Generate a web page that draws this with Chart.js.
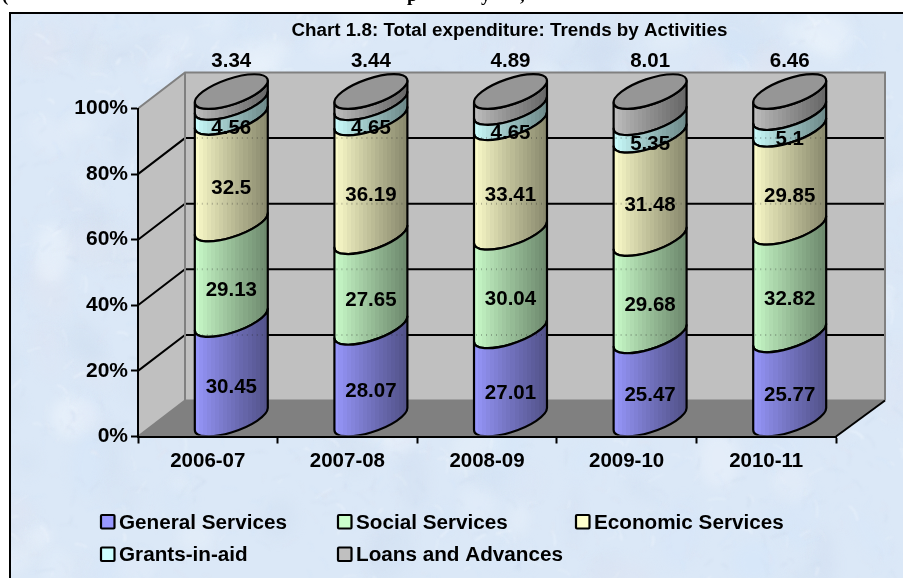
<!DOCTYPE html>
<html>
<head>
<meta charset="utf-8">
<title>Chart 1.8: Total expenditure: Trends by Activities</title>
<script src="https://cdn.jsdelivr.net/npm/chart.js@4"></script>
<style>
  html, body { margin: 0; padding: 0; background: #fff; }
  canvas { display: block; }
</style>
</head>
<body>
<canvas id="chart" width="903" height="578"></canvas>
<script>
// Expenditure shares by year, in percent
const categories = ['2006-07', '2007-08', '2008-09', '2009-10', '2010-11'];
const generalServices = [30.45, 28.07, 27.01, 25.47, 25.77];
const socialServices = [29.13, 27.65, 30.04, 29.68, 32.82];
const economicServices = [32.5, 36.19, 33.41, 31.48, 29.85];
const grantsInAid = [4.56, 4.65, 4.65, 5.35, 5.1];
const loansAndAdvances = [3.34, 3.44, 4.89, 8.01, 6.46];
const yTicks = [0, 20, 40, 60, 80, 100];
const chartTitle = 'Chart 1.8: Total expenditure: Trends by Activities';

const FONT = '"Liberation Sans", Arial, sans-serif';
const DEPTH_X = 47, DEPTH_Y = 36;           // shear of the 3D box
const RX = 38.3, RY = 12.8, ROT = -18.8 * Math.PI / 180;   // cylinder cross-section
const LIFT = 17;                            // ellipse centre above the front plane
const SHIFT = DEPTH_X / 2;
const T0 = Math.atan2(-RY * Math.sin(ROT), RX * Math.cos(ROT));
const HALF_W = Math.sqrt(Math.pow(RX * Math.cos(ROT), 2) + Math.pow(RY * Math.sin(ROT), 2));

function shade(hex, f) {
  const n = parseInt(hex.slice(1), 16);
  const c = s => Math.round(((n >> s) & 255) * f);
  return `rgb(${c(16)},${c(8)},${c(0)})`;
}

// Faceted shading: hard vertical bands from lit left to dark right
function bandFill(ctx, cx, color) {
  const g = ctx.createLinearGradient(cx - HALF_W, 0, cx + HALF_W, 0);
  const bands = 18;
  for (let i = 0; i < bands; i++) {
    const f = 0.98 - 0.44 * Math.pow(i / (bands - 1), 0.9);
    const col = shade(color, f);
    g.addColorStop(i / bands, col);
    g.addColorStop((i + 1) / bands, col);
  }
  return g;
}

// Bars are drawn as upright cylinder segments
Chart.BarElement.prototype.draw = function (ctx) {
  const cx = this.x + SHIFT;
  const yTop = this.y - LIFT, yBase = this.base - LIFT;
  const floor = Chart.getChart('chart').chartArea.bottom;
  ctx.save();
  ctx.beginPath();
  ctx.rect(0, 0, 903, floor - 1);
  ctx.clip();
  ctx.beginPath();
  ctx.ellipse(cx, yBase, RX, RY, ROT, T0, T0 + Math.PI, false);
  ctx.ellipse(cx, yTop, RX, RY, ROT, T0 + Math.PI, T0, true);
  ctx.closePath();
  ctx.fillStyle = bandFill(ctx, cx, this.options.backgroundColor);
  ctx.fill();
  ctx.lineWidth = 2.2;
  ctx.strokeStyle = '#000';
  ctx.lineJoin = 'round';
  ctx.stroke();
  ctx.restore();
};

// Seeded sequence for the paper texture of the chart background
function lcg(seed) {
  let s = seed;
  return () => (s = (s * 16807) % 2147483647) / 2147483647;
}

const backdrop = {
  id: 'backdrop',
  beforeDraw(chart) {
    const { ctx, scales: { y }, chartArea: a } = chart;
    ctx.save();
    ctx.fillStyle = '#fff';
    ctx.fillRect(0, 0, 903, 578);
    ctx.fillStyle = '#dbe8f7';
    ctx.fillRect(10, 13, 893, 565);

    // marbled paper
    ctx.save();
    ctx.beginPath();
    ctx.rect(11, 14, 892, 564);
    ctx.clip();
    const r = lcg(48271);
    const tints = ['rgba(240,246,253,', 'rgba(208,222,240,', 'rgba(222,228,242,', 'rgba(212,230,250,'];
    ctx.filter = 'blur(6px)';
    for (let i = 0; i < 240; i++) {
      ctx.fillStyle = tints[Math.floor(r() * 4)] + (0.2 + r() * 0.3) + ')';
      ctx.beginPath();
      ctx.ellipse(r() * 903, r() * 578, 10 + r() * 26, 6 + r() * 16, r() * 3, 0, 7);
      ctx.fill();
    }
    ctx.filter = 'blur(1px)';
    for (let i = 0; i < 1800; i++) {
      ctx.strokeStyle = tints[Math.floor(r() * 4)] + (0.2 + r() * 0.4) + ')';
      ctx.lineWidth = 0.8 + r() * 1.6;
      const px = r() * 903, py = r() * 578, ang = r() * 6.28, len = 5 + r() * 14;
      ctx.beginPath();
      ctx.moveTo(px, py);
      ctx.quadraticCurveTo(px + Math.cos(ang) * len * 0.5 + 3, py + Math.sin(ang) * len * 0.5 - 3,
                           px + Math.cos(ang) * len, py + Math.sin(ang) * len);
      ctx.stroke();
    }
    ctx.filter = 'none';
    ctx.restore();

    // chart frame: only the top and left edges fall inside the page
    ctx.fillStyle = '#000';
    ctx.fillRect(9, 12, 894, 2);
    ctx.fillRect(9, 12, 2, 566);

    // tails of the caption line above the frame
    ctx.font = 'bold 19px "Liberation Serif", serif';
    ctx.fillStyle = '#000';
    ctx.textAlign = 'left';
    ctx.textBaseline = 'alphabetic';
    ctx.fillText('(', 2, 1);
    ctx.fillText('p', 407, 1);
    ctx.fillText('y', 481, 1);
    ctx.fillText(',', 520, 1);

    const L = a.left, R = a.right, T = a.top, B = a.bottom;
    const bl = L + DEPTH_X, br = R + DEPTH_X + 2, bt = T - DEPTH_Y, bb = B - DEPTH_Y;

    // walls and floor
    ctx.fillStyle = '#C0C0C0';
    ctx.fillRect(bl, bt, br - bl, bb - bt);
    ctx.beginPath();
    ctx.moveTo(L, T); ctx.lineTo(bl, bt); ctx.lineTo(bl, bb); ctx.lineTo(L, B);
    ctx.closePath();
    ctx.fill();
    ctx.fillStyle = '#808080';
    ctx.beginPath();
    ctx.moveTo(L, B); ctx.lineTo(bl, bb); ctx.lineTo(br, bb); ctx.lineTo(R, B);
    ctx.closePath();
    ctx.fill();

    // gridlines wrap from the side wall onto the back wall
    ctx.strokeStyle = '#000';
    ctx.lineWidth = 2;
    yTicks.slice(1, -1).forEach(v => {
      const p = y.getPixelForValue(v);
      ctx.beginPath();
      ctx.moveTo(L, p); ctx.lineTo(bl, p - DEPTH_Y); ctx.lineTo(br, p - DEPTH_Y);
      ctx.stroke();
    });

    // wall outlines
    ctx.strokeStyle = '#808080';
    ctx.beginPath();
    ctx.moveTo(L, T); ctx.lineTo(bl, bt); ctx.lineTo(br, bt); ctx.lineTo(br, bb);
    ctx.moveTo(bl, bt); ctx.lineTo(bl, bb); ctx.lineTo(br, bb);
    ctx.stroke();
    ctx.beginPath();
    ctx.moveTo(L, B); ctx.lineTo(bl, bb);
    ctx.stroke();

    // front-right floor edge
    ctx.strokeStyle = '#000';
    ctx.beginPath();
    ctx.moveTo(R, B); ctx.lineTo(br, bb);
    ctx.stroke();
    ctx.restore();
  },
  afterDatasetsDraw(chart) {
    const { ctx, scales: { y } } = chart;
    const last = chart.data.datasets.length - 1;

    // cylinder caps
    chart.getDatasetMeta(last).data.forEach(bar => {
      ctx.save();
      ctx.beginPath();
      ctx.ellipse(bar.x + SHIFT, bar.y - LIFT, RX, RY, ROT, 0, Math.PI * 2);
      ctx.fillStyle = '#969696';
      ctx.fill();
      ctx.lineWidth = 2.2;
      ctx.strokeStyle = '#000';
      ctx.stroke();
      ctx.restore();
    });

    // gridlines show faintly through the cylinders
    ctx.save();
    ctx.strokeStyle = 'rgba(40,40,40,0.3)';
    ctx.setLineDash([1, 4]);
    ctx.lineWidth = 2;
    chart.getDatasetMeta(0).data.forEach(bar => {
      yTicks.slice(1, -1).forEach(v => {
        const p = y.getPixelForValue(v) - DEPTH_Y;
        ctx.beginPath();
        ctx.moveTo(bar.x + SHIFT - HALF_W + 2, p);
        ctx.lineTo(bar.x + SHIFT + HALF_W - 2, p);
        ctx.stroke();
      });
    });
    ctx.restore();

    // value labels
    ctx.save();
    ctx.font = `bold 20.5px ${FONT}`;
    ctx.fillStyle = '#000';
    ctx.textAlign = 'center';
    ctx.textBaseline = 'middle';
    chart.data.datasets.forEach((ds, i) => {
      chart.getDatasetMeta(i).data.forEach((bar, j) => {
        const ly = i === last ? y.getPixelForValue(100) - 47 : (bar.y + bar.base) / 2 + 1;
        ctx.fillText(String(ds.data[j]), bar.x + SHIFT, ly);
      });
    });

    // title
    ctx.font = `bold 18.8px ${FONT}`;
    ctx.fillText(chartTitle, 509.5, 31);

    // legend in two rows
    ctx.font = `bold 20.7px ${FONT}`;
    ctx.textAlign = 'left';
    const slots = [[100, 521.5], [337, 521.5], [575, 521.5], [100, 554], [337, 554]];
    chart.data.datasets.forEach((ds, i) => {
      const [lx, ly] = slots[i];
      ctx.fillStyle = ds.backgroundColor;
      ctx.strokeStyle = '#000';
      ctx.lineWidth = 2.2;
      ctx.beginPath();
      ctx.roundRect(lx + 1, ly - 6.5, 13.5, 13.5, 1);
      ctx.fill();
      ctx.stroke();
      ctx.fillStyle = '#000';
      ctx.fillText(ds.label, lx + 19, ly + 1.5);
    });
    ctx.restore();
  }
};

new Chart(document.getElementById('chart'), {
  type: 'bar',
  data: {
    labels: categories,
    datasets: [
      { label: 'General Services', data: generalServices, backgroundColor: '#9999FF', clip: false },
      { label: 'Social Services', data: socialServices, backgroundColor: '#CCFFCC', clip: false },
      { label: 'Economic Services', data: economicServices, backgroundColor: '#FFFFCC', clip: false },
      { label: 'Grants-in-aid', data: grantsInAid, backgroundColor: '#CCFFFF', clip: false },
      { label: 'Loans and Advances', data: loansAndAdvances, backgroundColor: '#C0C0C0', clip: false }
    ]
  },
  options: {
    responsive: false,
    animation: false,
    events: [],
    layout: { padding: { top: 108.5, right: 67, left: 0, bottom: 0 } },
    plugins: { legend: { display: false }, title: { display: false }, tooltip: { enabled: false } },
    scales: {
      x: {
        stacked: true,
        afterFit(s) { s.height = 141.5; },
        border: { color: '#000', width: 2 },
        grid: { drawOnChartArea: false, color: '#000', tickColor: '#000', tickWidth: 2, tickLength: 7 },
        ticks: { color: '#000', font: { family: FONT, weight: 'bold', size: 20.5 }, padding: 6, maxRotation: 0 }
      },
      y: {
        stacked: true,
        min: 0,
        max: 100,
        afterFit(s) { s.width = 138; },
        afterBuildTicks(s) { s.ticks = yTicks.map(value => ({ value })); },
        border: { color: '#000', width: 2 },
        grid: { drawOnChartArea: false, color: '#000', tickColor: '#000', tickWidth: 2, tickLength: 7 },
        ticks: { color: '#000', font: { family: FONT, weight: 'bold', size: 21 }, padding: 3, callback: v => v + '%' }
      }
    }
  },
  plugins: [backdrop]
});
</script>
</body>
</html>
